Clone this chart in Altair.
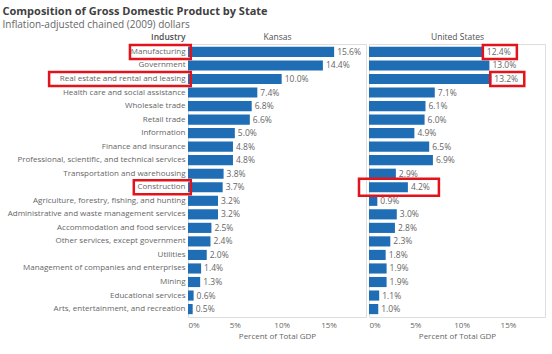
import altair as alt
import pandas as pd

industries = [
    "Manufacturing", "Government", "Real estate and rental and leasing",
    "Health care and social assistance", "Wholesale trade", "Retail trade",
    "Information", "Finance and insurance",
    "Professional, scientific, and technical services",
    "Transportation and warehousing", "Construction",
    "Agriculture, forestry, fishing, and hunting",
    "Administrative and waste management services",
    "Accommodation and food services", "Other services, except government",
    "Utilities", "Management of companies and enterprises", "Mining",
    "Educational services", "Arts, entertainment, and recreation",
]
kansas = [15.6, 14.4, 10.0, 7.4, 6.8, 6.6, 5.0, 4.8, 4.8, 3.8, 3.7, 3.2, 3.2, 2.5, 2.4, 2.0, 1.4, 1.3, 0.6, 0.5]
united_states = [12.4, 13.0, 13.2, 7.1, 6.1, 6.0, 4.9, 6.5, 6.9, 2.9, 4.2, 0.9, 3.0, 2.8, 2.3, 1.8, 1.9, 1.9, 1.1, 1.0]
x_ticks = [0, 5, 10, 15]

# annotation highlights (red boxes in the reference)
kansas_label_marks = ["Manufacturing", "Real estate and rental and leasing", "Construction"]
us_value_marks = ["Manufacturing", "Real estate and rental and leasing"]
us_bar_marks = ["Construction"]

df = pd.DataFrame({"industry": industries, "Kansas": kansas, "United States": united_states})

BLUE = "#1F6EB5"
RED = "#E3131B"
FONT = "Open Sans"
GRAY = "#666666"
HEAD = "#505050"
PANEL_W = 178
X_MAX = 19
PX_PER_UNIT = PANEL_W / X_MAX


def panel(field, show_y, width):
    if show_y:
        yaxis = alt.Axis(
            title="Industry", titleAngle=0, titleAlign="right", titleBaseline="bottom",
            titleX=-3, titleY=-3, titleFont=FONT, titleFontSize=8.5, titleFontWeight=600,
            titleColor=HEAD, labelFont=FONT, labelFontSize=8, labelColor=GRAY,
            labelPadding=3, ticks=False, domain=False, minExtent=185, maxExtent=185,
            labelLimit=185,
        )
    else:
        yaxis = None
    y = alt.Y("industry:N", sort=industries, axis=yaxis,
              scale=alt.Scale(paddingInner=0.25, paddingOuter=0.21))
    ysimple = alt.Y("industry:N", sort=industries)
    x = alt.X(f"{field}:Q", scale=alt.Scale(domain=[0, X_MAX], nice=False),
              axis=alt.Axis(values=x_ticks, labelExpr="datum.value + '%'",
                            title="Percent of Total GDP", grid=False, ticks=False,
                            domain=False, labelFont=FONT, labelFontSize=8,
                            labelColor=GRAY, titleFont=FONT, titleFontSize=8,
                            titleFontWeight="normal", titleColor=GRAY, labelPadding=4,
                            titlePadding=3, labelFlush=True))
    base = alt.Chart(df)
    bars = base.mark_bar(color=BLUE).encode(x=x, y=y)
    text = base.transform_calculate(
        lbl=f"format(datum['{field}'], '.1f') + '%'"
    ).mark_text(align="left", baseline="middle", dx=3, font=FONT, fontSize=8.5,
                color=GRAY).encode(
        x=alt.X(f"{field}:Q",
                axis=alt.Axis(orient="top", title=field, labels=False, ticks=False,
                              domain=False, grid=False, titleFont=FONT, titleFontSize=8.5,
                              titleFontWeight="normal", titleColor=HEAD, titlePadding=3)),
        y=ysimple, text="lbl:N")
    layers = [bars, text]
    if field == "Kansas":
        boxes = base.transform_filter(
            alt.FieldOneOfPredicate(field="industry", oneOf=kansas_label_marks)
        ).transform_calculate(
            xl=f"-(length(datum.industry) * 3.85 + 8) / {PX_PER_UNIT}",
            xr="0.3",
        ).mark_bar(filled=False, stroke=RED, strokeWidth=2.5, size=14).encode(
            x=alt.X("xl:Q", axis=None), x2="xr:Q", y=ysimple)
        layers.append(boxes)
    else:
        vboxes = base.transform_filter(
            alt.FieldOneOfPredicate(field="industry", oneOf=us_value_marks)
        ).mark_bar(filled=False, stroke=RED, strokeWidth=2.5, size=14,
                   xOffset=-1, x2Offset=33).encode(
            x=alt.X(f"{field}:Q", axis=None), x2=alt.X2(f"{field}:Q"), y=ysimple)
        bboxes = base.transform_filter(
            alt.FieldOneOfPredicate(field="industry", oneOf=us_bar_marks)
        ).transform_calculate(zero="0").mark_bar(
            filled=False, stroke=RED, strokeWidth=2.5, size=17,
            xOffset=-10, x2Offset=31).encode(
            x=alt.X("zero:Q", axis=None), x2=alt.X2(f"{field}:Q"), y=ysimple)
        layers += [vboxes, bboxes]
    return alt.layer(*layers).resolve_axis(x="independent").properties(
        width=width, height=273)


chart = alt.hconcat(panel("Kansas", True, PANEL_W), panel("United States", False, 176),
                    spacing=3, bounds="flush").properties(
    title=alt.TitleParams(
        "Composition of Gross Domestic Product by State",
        subtitle="Inflation-adjusted chained (2009) dollars",
        anchor="start", font=FONT, fontSize=11, fontWeight="bold", color="#404040",
        subtitleFont=FONT, subtitleFontSize=10, subtitleColor="#666666",
        subtitlePadding=3, offset=2,
    ),
    padding={"left": 2, "top": 5, "right": 2, "bottom": 0},
).configure_view(stroke="#d9d9d9").configure(background="white")

chart.save("out.html", embed_options={"renderer": "svg", "actions": False})
